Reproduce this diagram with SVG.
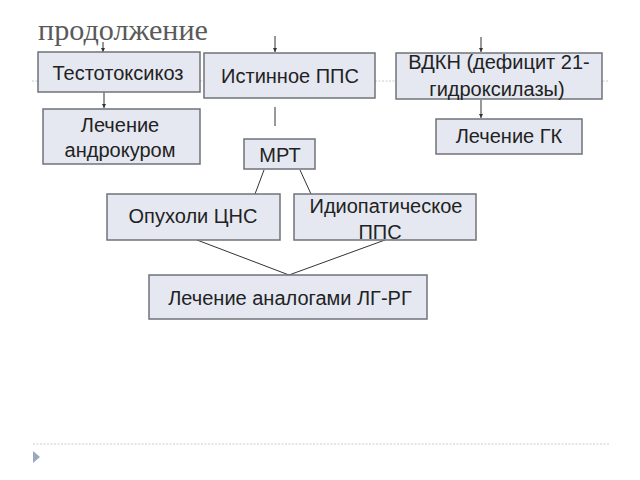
<svg xmlns="http://www.w3.org/2000/svg" width="640" height="480" viewBox="0 0 640 480">
<defs>
<style>
.box{fill:#e5e8f1;stroke:#6f7378;stroke-width:1.5}
.t{font-family:"Liberation Sans","DejaVu Sans",sans-serif;font-size:20px;fill:#222;text-anchor:middle}
.c{stroke:#333;stroke-width:1;fill:none}
.dot{stroke:#c5ccd4;stroke-width:1.2;stroke-dasharray:2 1.5}
</style>
<marker id="ah" viewBox="0 0 6 6" refX="6" refY="3" markerWidth="4" markerHeight="4" orient="auto" markerUnits="userSpaceOnUse">
<path d="M0,0 L6,3 L0,6 z" fill="#333"/>
</marker>
</defs>
<rect width="640" height="480" fill="#fff"/>
<g id="decor">
<line class="dot" x1="32" y1="81" x2="608" y2="81"/>
<line class="dot" x1="33" y1="444" x2="610" y2="444"/>
<polygon points="33,451 40,457 33,463" fill="#98a9bc"/>
<text x="38" y="40" font-family="'Liberation Serif','DejaVu Serif',serif" font-size="29" fill="#5a5a5a" textLength="170" lengthAdjust="spacingAndGlyphs">продолжение</text>
</g>
<g id="connectors">
<line class="c" x1="103" y1="42" x2="103" y2="52" marker-end="url(#ah)"/>
<line class="c" x1="275" y1="36" x2="275" y2="52" marker-end="url(#ah)"/>
<line class="c" x1="481" y1="37" x2="481" y2="52" marker-end="url(#ah)"/>
<line class="c" x1="104" y1="92" x2="104" y2="108" marker-end="url(#ah)"/>
<line class="c" x1="481" y1="100" x2="481" y2="118" marker-end="url(#ah)"/>
<line class="c" x1="275" y1="107" x2="275" y2="126"/>
<line class="c" x1="264" y1="170" x2="255" y2="194"/>
<line class="c" x1="300" y1="170" x2="311" y2="194"/>
<line class="c" x1="197" y1="240" x2="289" y2="275"/>
<line class="c" x1="385" y1="240" x2="289" y2="275"/>
</g>
<g id="n1"><rect class="box" x="38" y="52" width="162" height="40"/><text class="t" x="118" y="80">Тестотоксикоз</text></g>
<g id="n2"><rect class="box" x="204" y="53" width="171" height="45"/><text class="t" x="290" y="83">Истинное ППС</text></g>
<g id="n3"><rect class="box" x="396" y="53" width="206" height="46"/><text class="t" x="499" y="69">ВДКН (дефицит 21-</text><text class="t" x="497" y="96">гидроксилазы)</text></g>
<g id="n4"><rect class="box" x="43" y="109" width="157" height="55"/><text class="t" x="120" y="132">Лечение</text><text class="t" x="120" y="157">андрокуром</text></g>
<g id="n5"><rect class="box" x="244" y="139" width="71" height="30"/><text class="t" x="280" y="162">МРТ</text></g>
<g id="n6"><rect class="box" x="436" y="119" width="146" height="35"/><text class="t" x="509" y="143">Лечение ГК</text></g>
<g id="n7"><rect class="box" x="107" y="194" width="173" height="46"/><text class="t" x="193" y="223">Опухоли ЦНС</text></g>
<g id="n8"><rect class="box" x="294" y="194" width="182" height="46"/><text class="t" x="386" y="213">Идиопатическое</text><text class="t" x="380" y="239">ППС</text></g>
<g id="n9"><rect class="box" x="149" y="275" width="278" height="44"/><text class="t" x="290" y="305">Лечение аналогами ЛГ-РГ</text></g>
</svg>
